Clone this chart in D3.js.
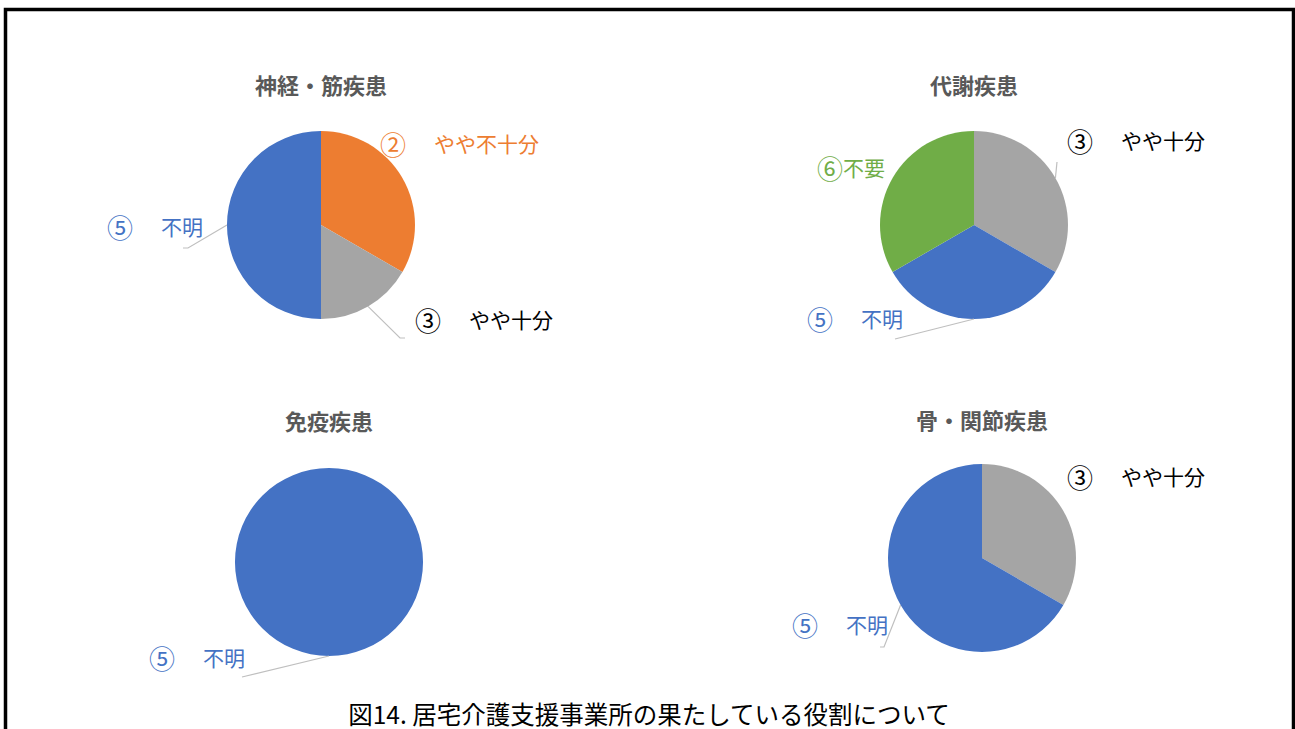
<!DOCTYPE html>
<html lang="ja">
<head>
<meta charset="utf-8">
<script src="https://cdn.jsdelivr.net/npm/d3@7"></script>
<style>
  html, body { margin: 0; padding: 0; background: #fff; }
  svg { display: block; font-family: "Noto Sans CJK JP", "Noto Sans", sans-serif; }
</style>
</head>
<body>
<svg id="chart" width="1295" height="729"></svg>
<script>
// Response categories (clockwise order from 12 o'clock) and their colours
const categories = ["②　やや不十分", "③　やや十分", "⑤　不明", "⑥不要"];
const categoryColors = ["#ED7D31", "#A5A5A5", "#4472C4", "#70AD47"];
const labelColors = ["#ED7D31", "#000000", "#4472C4", "#70AD47"];

// Disease groups, one pie each
const panels = ["神経・筋疾患", "代謝疾患", "免疫疾患", "骨・関節疾患"];

// Number of responses per category for each group
const neuroValues = [2, 1, 3, 0];
const metabolicValues = [0, 1, 1, 1];
const immuneValues = [0, 0, 1, 0];
const boneValues = [0, 1, 2, 0];
const panelValues = [neuroValues, metabolicValues, immuneValues, boneValues];

const caption = "図14. 居宅介護支援事業所の果たしている役割について";

// Layout: pie centres, title offsets and label placement (relative to centre)
const radius = 94;
const layout = [
  { cx: 321, cy: 225, titleY: -141,
    labels: {
      0: { dx: 59, dy: -82 },
      1: { dx: 94, dy: 94, leader: [[79, 113], [84, 113]] },
      2: { dx: -214, dy: 1, leader: [[-133, 23], [-138, 23]] }
    } },
  { cx: 974, cy: 225, titleY: -141,
    labels: {
      1: { dx: 93, dy: -85, leader: [[83, -63]] },
      2: { dx: -167, dy: 93, leader: [[-79, 114]] },
      3: { dx: -157, dy: -58 }
    } },
  { cx: 329, cy: 562, titleY: -142,
    labels: {
      2: { dx: -180, dy: 95, leader: [[-87, 115]] }
    } },
  { cx: 982, cy: 558, titleY: -139,
    labels: {
      1: { dx: 85, dy: -82 },
      2: { dx: -190, dy: 66, leader: [[-98, 89], [-102, 89]] }
    } }
];

const svg = d3.select("#chart");

// Outer frame
svg.append("rect")
  .attr("x", 5.5).attr("y", 9.5)
  .attr("width", 1288).attr("height", 760)
  .attr("fill", "none")
  .attr("stroke", "#000")
  .attr("stroke-width", 3.5);

const pie = d3.pie().sort(null).value(d => d.value);
const arc = d3.arc().innerRadius(0).outerRadius(radius);
const color = d3.scaleOrdinal().domain(d3.range(categories.length)).range(categoryColors);

panels.forEach((title, p) => {
  const L = layout[p];
  const g = svg.append("g").attr("transform", `translate(${L.cx},${L.cy})`);

  const data = panelValues[p].map((v, i) => ({ index: i, value: v }));
  const arcs = pie(data).filter(a => a.data.value > 0);

  g.selectAll("path.slice")
    .data(arcs)
    .join("path")
    .attr("class", "slice")
    .attr("d", arc)
    .attr("fill", d => color(d.data.index));

  // Title
  g.append("text")
    .attr("x", 0).attr("y", L.titleY)
    .attr("text-anchor", "middle")
    .attr("dominant-baseline", "central")
    .attr("font-size", 22)
    .attr("font-weight", "bold")
    .attr("fill", "#595959")
    .text(title);

  // Data labels with leader lines
  arcs.forEach(a => {
    const spec = L.labels[a.data.index];
    if (!spec) return;
    if (spec.leader) {
      const mid = (a.startAngle + a.endAngle) / 2;
      const start = [radius * Math.sin(mid), -radius * Math.cos(mid)];
      g.append("path")
        .attr("d", d3.line()([start, ...spec.leader]))
        .attr("fill", "none")
        .attr("stroke", "#BFBFBF")
        .attr("stroke-width", 1.2);
    }
    const label = categories[a.data.index];
    const parts = label.split("　");
    const t = g.append("text")
      .attr("x", spec.dx).attr("y", spec.dy)
      .attr("dominant-baseline", "central")
      .attr("font-size", 21)
      .attr("fill", labelColors[a.data.index]);
    // circled number drawn a little larger than the words
    const marker = [...parts[0]][0];
    const rest = parts.length > 1 ? parts[1] : parts[0].slice(marker.length);
    t.append("tspan").attr("font-size", 26).text(marker);
    t.append("tspan").attr("dx", parts.length > 1 ? 28 : 0).text(rest);
  });
});

// Figure caption
svg.append("text")
  .attr("x", 649).attr("y", 713)
  .attr("text-anchor", "middle")
  .attr("dominant-baseline", "central")
  .attr("font-size", 24.5)
  .attr("fill", "#000")
  .text(caption);
</script>
</body>
</html>
